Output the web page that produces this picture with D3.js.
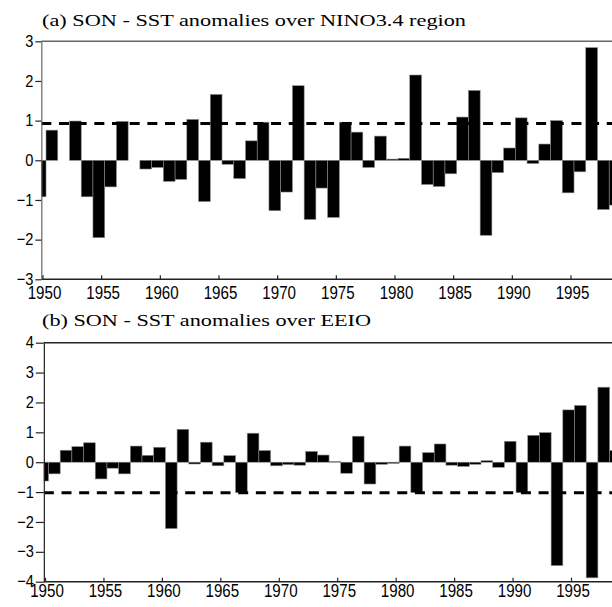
<!DOCTYPE html>
<html>
<head>
<meta charset="utf-8">
<script src="https://cdn.jsdelivr.net/npm/d3@7"></script>
<style>
    body { margin: 0; background: #fff; }
    .title { font-family: "Liberation Serif", "Times New Roman", serif; font-size: 17.5px; fill: #000; }
    .tick text { font-family: "Liberation Sans", Arial, sans-serif; font-size: 18px; fill: #000; }
    .yaxis .tick text { font-size: 17px; }
</style>
</head>
<body>
<svg class="scene"></svg>
<script>

//
// data
//

var years = [1950, 1951, 1952, 1953, 1954, 1955, 1956, 1957, 1958, 1959,
             1960, 1961, 1962, 1963, 1964, 1965, 1966, 1967, 1968, 1969,
             1970, 1971, 1972, 1973, 1974, 1975, 1976, 1977, 1978, 1979,
             1980, 1981, 1982, 1983, 1984, 1985, 1986, 1987, 1988, 1989,
             1990, 1991, 1992, 1993, 1994, 1995, 1996, 1997, 1998, 1999];

var nino34 = [-0.92, 0.76, 0.00, 0.99, -0.92, -1.95, -0.67, 0.98, 0.00, -0.22,
              -0.18, -0.53, -0.48, 1.03, -1.04, 1.66, -0.10, -0.46, 0.49, 0.96,
              -1.27, -0.80, 1.88, -1.49, -0.70, -1.44, 0.96, 0.71, -0.18, 0.61,
              0.03, 0.05, 2.15, -0.61, -0.66, -0.34, 1.09, 1.76, -1.89, -0.31,
              0.31, 1.07, -0.08, 0.41, 1.00, -0.82, -0.29, 2.84, -1.24, -1.13];

var eeio = [-0.63, -0.39, 0.40, 0.52, 0.65, -0.56, -0.20, -0.39, 0.54, 0.23,
            0.50, -2.22, 1.10, -0.06, 0.67, -0.12, 0.22, -1.02, 0.97, 0.39,
            -0.12, -0.08, -0.10, 0.36, 0.24, 0.02, -0.37, 0.87, -0.73, -0.07,
            -0.04, 0.54, -1.02, 0.32, 0.61, -0.10, -0.14, -0.07, 0.05, -0.17,
            0.70, -1.02, 0.90, 0.99, -3.46, 1.75, 1.90, -3.87, 2.51, 0.39];

var nino34_threshold = 0.93;
var eeio_threshold = -1.02;

var nino34_ticks = [-3, -2, -1, 0, 1, 2, 3];
var eeio_ticks = [-4, -3, -2, -1, 0, 1, 2, 3, 4];
var year_ticks = [1950, 1955, 1960, 1965, 1970, 1975, 1980, 1985, 1990, 1995];

var titles = ["(a) SON - SST anomalies over NINO3.4 region",
              "(b) SON - SST anomalies over EEIO"];

//
// scene
//

var width = 612,
    height = 607;

var scene = d3.select(".scene")
    .attr("width", width)
    .attr("height", height);

scene.append("rect")
    .attr("width", width)
    .attr("height", height)
    .attr("fill", "#fff");

// the reference uses a condensed sans for tick labels
function squash(sel, f) {
    sel.selectAll(".tick text").each(function () {
        var w = this.getComputedTextLength();
        d3.select(this)
            .attr("textLength", w * f)
            .attr("lengthAdjust", "spacingAndGlyphs");
    });
}

//
// panels
//

function draw_panel(p) {
    var x = d3.scaleLinear().domain([1950, 1995]).range([p.x0, p.x1]);
    var y = d3.scaleLinear().domain(p.domain).range([p.bottom, p.top]);
    var left = x(1949.9);

    var g = scene.append("g");

    g.append("clipPath")
        .attr("id", "clip" + p.id)
        .append("rect")
            .attr("x", left)
            .attr("y", p.top - 2)
            .attr("width", width - left)
            .attr("height", p.bottom - p.top + 4);

    var plot = g.append("g")
        .attr("clip-path", "url(#clip" + p.id + ")");

    // bars, one year wide, no gaps
    plot.selectAll("rect.bar")
        .data(p.values)
        .enter().append("rect")
            .attr("class", "bar")
            .attr("x", function (d, i) { return x(years[i] - 0.7); })
            .attr("width", function (d, i) { return x(years[i] + 0.3) - x(years[i] - 0.7); })
            .attr("y", function (d) { return y(Math.max(d, 0)); })
            .attr("height", function (d) { return Math.abs(y(d) - y(0)); })
            .attr("fill", "#000")
            .attr("stroke", "#888")
            .attr("stroke-width", 0.6);

    // threshold
    plot.append("line")
        .attr("x1", left)
        .attr("x2", width)
        .attr("y1", y(p.threshold))
        .attr("y2", y(p.threshold))
        .attr("stroke", "#000")
        .attr("stroke-width", 3)
        .attr("stroke-dasharray", "10,7.67");

    // frame
    g.append("line")
        .attr("x1", left).attr("x2", width)
        .attr("y1", p.top).attr("y2", p.top)
        .attr("stroke", p.frame).attr("stroke-width", 1.4);
    g.append("line")
        .attr("x1", left).attr("x2", width)
        .attr("y1", p.bottom).attr("y2", p.bottom)
        .attr("stroke", "#222").attr("stroke-width", 1.4);

    var yaxis = g.append("g")
        .attr("class", "yaxis")
        .attr("transform", "translate(" + left + ",0)")
        .call(d3.axisLeft(y)
            .tickValues(p.ticks)
            .tickFormat(d3.format("d"))
            .tickSizeInner(p.ytick)
            .tickSizeOuter(0)
            .tickPadding(2));
    yaxis.select(".domain").attr("stroke", p.frame).attr("stroke-width", 1.2);
    yaxis.selectAll(".tick line").attr("stroke", "#222").attr("stroke-width", 1.2);
    yaxis.selectAll(".tick text").attr("dy", "0.3em");
    squash(yaxis, 0.86);

    var xaxis = g.append("g")
        .attr("transform", "translate(0," + p.bottom + ")")
        .call(d3.axisBottom(x)
            .tickValues(year_ticks)
            .tickFormat(d3.format("d"))
            .tickSizeInner(-4)
            .tickSizeOuter(0)
            .tickPadding(p.xpad));
    xaxis.select(".domain").remove();
    xaxis.selectAll(".tick line").attr("stroke", "#222").attr("stroke-width", 1.2);
    xaxis.selectAll(".tick text").attr("x", 1.5);
    squash(xaxis, 0.84);

    // title
    g.append("text")
        .attr("class", "title")
        .attr("x", 42)
        .attr("y", p.title_y)
        .attr("textLength", p.title_w)
        .attr("lengthAdjust", "spacingAndGlyphs")
        .text(p.title);
}

draw_panel({
    id: "a", values: nino34, threshold: nino34_threshold,
    domain: [-3, 3], ticks: nino34_ticks,
    top: 41.3, bottom: 279.3, x0: 42.5, x1: 570.5, frame: "#666",
    ytick: 6, xpad: 7, title: titles[0], title_y: 26, title_w: 424
});

draw_panel({
    id: "b", values: eeio, threshold: eeio_threshold,
    domain: [-4, 4], ticks: eeio_ticks,
    top: 342.7, bottom: 581.7, x0: 45, x1: 571, frame: "#222",
    ytick: 8, xpad: 3, title: titles[1], title_y: 326, title_w: 329
});

</script>
</body>
</html>
